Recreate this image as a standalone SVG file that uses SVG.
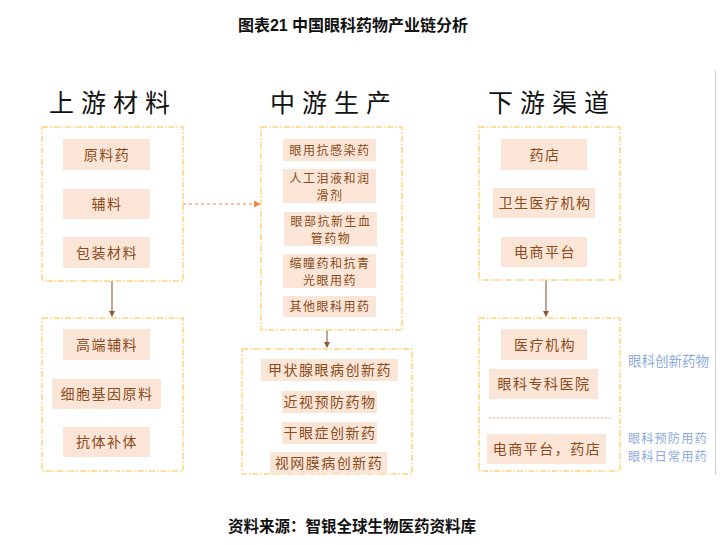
<svg xmlns="http://www.w3.org/2000/svg" width="723" height="545" viewBox="0 0 723 545">
<style>
  .title{font-family:"Liberation Sans","Noto Sans CJK SC",sans-serif;font-weight:bold;font-size:16px;fill:#111;}
  .foot{font-family:"Liberation Sans","Noto Sans CJK SC",sans-serif;font-weight:bold;font-size:15.5px;fill:#111;}
  .head{font-family:"Noto Sans CJK SC",sans-serif;font-size:25px;fill:#111;letter-spacing:7px;}
  .box{fill:none;stroke:#fdd57a;stroke-width:1.5;stroke-dasharray:6 2 1.5 2;}
  .item{fill:#fbe5d6;}
  .t{font-family:"Noto Sans CJK SC",sans-serif;font-size:14px;fill:#8a4b20;text-anchor:middle;letter-spacing:1.5px;}
  .s{font-family:"Noto Sans CJK SC",sans-serif;font-size:12px;fill:#8a4b20;text-anchor:middle;letter-spacing:1.5px;}
  .side{font-family:"Noto Sans CJK SC",sans-serif;font-size:13.5px;fill:#8eaadb;}
  .side2{font-family:"Noto Sans CJK SC",sans-serif;font-size:12.2px;fill:#8eaadb;letter-spacing:1.1px;}
  .down{stroke:#a0765a;stroke-width:1.3;fill:none;}
  .dash{stroke:#f4b183;stroke-width:1.5;stroke-dasharray:3 3;fill:none;}
  .sep{stroke:#f4b183;stroke-width:1.3;stroke-dasharray:1.5 2.5;fill:none;}
</style>
<defs>
  <marker id="ab" markerWidth="6" markerHeight="6" refX="5" refY="3" orient="auto" markerUnits="userSpaceOnUse">
    <path d="M0,0 L6,3 L0,6 z" fill="#8b5a3c"/>
  </marker>
  <marker id="ao" markerWidth="7" markerHeight="7" refX="6" refY="3.5" orient="auto" markerUnits="userSpaceOnUse">
    <path d="M0,0 L7,3.5 L0,7 z" fill="#ef8a4c"/>
  </marker>
</defs>
<rect width="723" height="545" fill="#fff"/>
<text class="title" x="353" y="31" text-anchor="middle">图表21 中国眼科药物产业链分析</text>
<line x1="715.5" y1="70" x2="715.5" y2="475" stroke="#cccccc" stroke-width="1"/>

<text class="head" x="49" y="112">上游材料</text>
<text class="head" x="270" y="112">中游生产</text>
<text class="head" x="488" y="112">下游渠道</text>

<g id="connectors">
  <line class="dash" x1="183" y1="204" x2="260" y2="204" marker-end="url(#ao)"/>
  <line class="down" x1="112" y1="281" x2="112" y2="316" marker-end="url(#ab)"/>
  <line class="down" x1="327" y1="330" x2="327" y2="347" marker-end="url(#ab)"/>
  <line class="down" x1="546" y1="280" x2="546" y2="316" marker-end="url(#ab)"/>
</g>

<g id="up-top">
  <rect class="box" x="42" y="127" width="141" height="154"/>
  <rect class="item" x="63" y="139" width="87" height="31"/><text class="t" x="107" y="160">原料药</text>
  <rect class="item" x="63" y="189" width="87" height="30"/><text class="t" x="107" y="209">辅料</text>
  <rect class="item" x="63" y="237" width="87" height="31"/><text class="t" x="107" y="258">包装材料</text>
</g>
<g id="up-bottom">
  <rect class="box" x="42" y="318" width="141" height="153"/>
  <rect class="item" x="63" y="329" width="87" height="31"/><text class="t" x="107" y="350">高端辅料</text>
  <rect class="item" x="52" y="379" width="109" height="30"/><text class="t" x="107" y="399">细胞基因原料</text>
  <rect class="item" x="63" y="427" width="87" height="30"/><text class="t" x="107" y="447">抗体补体</text>
</g>

<g id="mid-top">
  <rect class="box" x="261" y="127" width="141" height="203"/>
  <rect class="item" x="283" y="139" width="93" height="22"/><text class="s" x="330" y="154.5">眼用抗感染药</text>
  <rect class="item" x="283" y="169" width="93" height="34"/><text class="s" x="330" y="182.5">人工泪液和润</text><text class="s" x="330" y="200">滑剂</text>
  <rect class="item" x="284" y="212" width="93" height="34"/><text class="s" x="331" y="225.5">眼部抗新生血</text><text class="s" x="331" y="243">管药物</text>
  <rect class="item" x="283" y="254" width="93" height="34"/><text class="s" x="330" y="267.5">缩瞳药和抗青</text><text class="s" x="330" y="285">光眼用药</text>
  <rect class="item" x="283" y="296" width="93" height="21"/><text class="s" x="330" y="311">其他眼科用药</text>
</g>
<g id="mid-bottom">
  <rect class="box" x="242" y="349" width="170" height="125"/>
  <rect class="item" x="261" y="359" width="137" height="22"/><text class="t" x="330" y="375">甲状腺眼病创新药</text>
  <rect class="item" x="282" y="391" width="95" height="22"/><text class="t" x="330" y="407">近视预防药物</text>
  <rect class="item" x="282" y="422" width="95" height="22"/><text class="t" x="330" y="438">干眼症创新药</text>
  <rect class="item" x="270" y="452" width="117" height="22"/><text class="t" x="329" y="468">视网膜病创新药</text>
</g>

<g id="down-top">
  <rect class="box" x="479" y="127" width="141" height="153"/>
  <rect class="item" x="501" y="139" width="86" height="31"/><text class="t" x="545" y="160">药店</text>
  <rect class="item" x="493" y="188" width="102" height="30"/><text class="t" x="545" y="208">卫生医疗机构</text>
  <rect class="item" x="501" y="237" width="86" height="30"/><text class="t" x="545" y="257">电商平台</text>
</g>
<g id="down-bottom">
  <rect class="box" x="479" y="318" width="141" height="153"/>
  <rect class="item" x="501" y="329" width="86" height="31"/><text class="t" x="545" y="350">医疗机构</text>
  <rect class="item" x="489" y="369" width="109" height="30"/><text class="t" x="544" y="389">眼科专科医院</text>
  <line class="sep" x1="489" y1="418" x2="610" y2="418"/>
  <rect class="item" x="487" y="434" width="119" height="30"/><text class="t" x="547" y="454">电商平台，药店</text>
</g>

<g id="side-labels">
  <text class="side" x="628" y="366">眼科创新药物</text>
  <text class="side2" x="628" y="443">眼科预防用药</text>
  <text class="side2" x="628" y="461">眼科日常用药</text>
</g>

<text class="foot" x="352" y="532" text-anchor="middle">资料来源：智银全球生物医药资料库</text>
</svg>
